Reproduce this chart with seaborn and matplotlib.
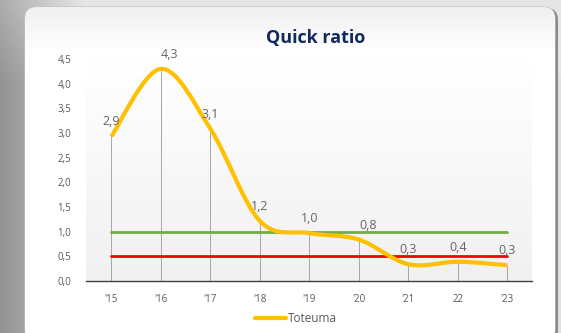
import numpy as np
import pandas as pd
import matplotlib
matplotlib.use("Agg")
import matplotlib.pyplot as plt
import seaborn as sns
from matplotlib.path import Path
from matplotlib.patches import PathPatch, FancyBboxPatch
from matplotlib.lines import Line2D
from matplotlib.colors import LinearSegmentedColormap

# ---- data ----
years = ["'15", "'16", "'17", "'18", "'19", "'20", "'21", "22", "'23"]
toteuma = [2.93, 4.30, 3.09, 1.22, 0.97, 0.84, 0.34, 0.39, 0.32]
target_good = [1.0, 1.0, 1.0, 1.0, 1.0, 1.0, 1.0, 1.0, 1.0]
target_min = [0.5, 0.5, 0.5, 0.5, 0.5, 0.5, 0.5, 0.5, 0.5]
y_ticks = [0.0, 0.5, 1.0, 1.5, 2.0, 2.5, 3.0, 3.5, 4.0, 4.5]

df = pd.DataFrame({"year": years, "pos": np.arange(len(years)),
                   "toteuma": toteuma, "good": target_good, "min": target_min})

sns.set_theme(style="white")
plt.rcParams["font.family"] = ["Open Sans", "DejaVu Sans"]

W, H = 561, 333
fig = plt.figure(figsize=(W / 100, H / 100), dpi=100)

# ---- framed card background ----
bg = fig.add_axes([0, 0, 1, 1], zorder=-5)
bg.set_xlim(0, W)
bg.set_ylim(H, 0)
bg.axis("off")
gx = np.linspace(0, 1, 120)[None, :]
gy = np.linspace(0, 1, 80)[:, None]
shade = 0.58 + 0.30 * np.clip(gx * 5, 0, 1) + 0.10 * (1 - np.clip(gy * 4, 0, 1))
shade = np.clip(shade, 0, 0.90)
bg.imshow(np.dstack([shade, shade, shade]), extent=(0, W, H, 0), aspect="auto",
          interpolation="bilinear", zorder=0)

shadow = FancyBboxPatch((27, 8), 531, 334, boxstyle="round,pad=0,rounding_size=12",
                        facecolor="#8a8a8a", edgecolor="none", zorder=1)
bg.add_patch(shadow)
card = FancyBboxPatch((25, 7), 530, 334, boxstyle="round,pad=0,rounding_size=12",
                      facecolor="white", edgecolor="#c4c4c4", linewidth=0.8, zorder=2)
bg.add_patch(card)
card_grad = np.linspace(0.94, 1.0, 40)[:, None] * np.ones((1, 2))
card_grad = np.vstack([card_grad, np.ones((260, 2))])
im = bg.imshow(np.dstack([card_grad] * 3), extent=(25, 555, 341, 7), aspect="auto",
               interpolation="bilinear", zorder=3)
im.set_clip_path(card)

# ---- plot area ----
ax = fig.add_axes([86.5 / W, (H - 281) / H, (532 - 86.5) / W, (281 - 59) / H])
ax.set_facecolor("none")
plot_cmap = LinearSegmentedColormap.from_list("pa", ["#f1f1f1", "#ffffff"])
ax.imshow(np.linspace(0, 1, 100)[:, None], cmap=plot_cmap, extent=(0, 1, 0, 1),
          origin="lower", aspect="auto", transform=ax.transAxes, zorder=0)

# drop lines from each observation to the axis
ax.vlines(df["pos"], 0, df["toteuma"], color="#a6a6a6", linewidth=0.7, zorder=1)

# reference levels
sns.lineplot(data=df, x="pos", y="good", color="#70AD47", linewidth=2.0, ax=ax, zorder=2)
sns.lineplot(data=df, x="pos", y="min", color="#FF0000", linewidth=2.0, ax=ax, zorder=3)


def smooth_path(xs, ys):
    pts = np.column_stack([xs, ys]).astype(float)
    n = len(pts)
    verts = [pts[0]]
    codes = [Path.MOVETO]
    for i in range(n - 1):
        p0 = pts[i - 1] if i > 0 else pts[i]
        p1 = pts[i]
        p2 = pts[i + 1]
        p3 = pts[i + 2] if i + 2 < n else pts[i + 1]
        verts += [p1 + (p2 - p0) / 6, p2 - (p3 - p1) / 6, p2]
        codes += [Path.CURVE4] * 3
    return Path(verts, codes)


curve = PathPatch(smooth_path(df["pos"], df["toteuma"]), facecolor="none",
                  edgecolor="#FFC000", linewidth=3.0, capstyle="butt", zorder=4)
ax.add_patch(curve)

# value labels
label_nudge = {1: 9, 5: 9}
for i, v in enumerate(df["toteuma"]):
    ax.annotate(f"{v:.1f}".replace(".", ","), (i, v),
                xytext=(label_nudge.get(i, 0), 11), textcoords="offset pixels",
                ha="center", va="baseline", fontsize=9, color="#666666",
                zorder=6, annotation_clip=False)

ax.set_xlim(-0.5, len(years) - 0.5)
ax.set_ylim(0, 4.5)
ax.set_xticks(df["pos"])
ax.set_xticklabels(years)
ax.set_yticks(y_ticks)
ax.set_yticklabels([f"{t:.1f}".replace(".", ",") for t in y_ticks])
ax.tick_params(axis="both", length=0, labelsize=7, labelcolor="#595959")
ax.tick_params(axis="y", pad=11)
ax.tick_params(axis="x", pad=9)
ax.set_xlabel("")
ax.set_ylabel("")
for side in ("left", "right", "top"):
    ax.spines[side].set_visible(False)
ax.spines["bottom"].set_color("#404040")
ax.spines["bottom"].set_linewidth(1.0)

fig.text(316 / W, 1 - 38 / H, "Quick ratio", ha="center", va="center",
         fontsize=13, fontweight="bold", color="#13295e")

fig.legend(handles=[Line2D([], [], color="#FFC000", linewidth=3)], labels=["Toteuma"],
           loc="center", bbox_to_anchor=(296 / W, 1 - 319 / H), frameon=False,
           handlelength=2.7, handletextpad=0.15, fontsize=8.5, labelcolor="#595959")

fig.savefig("out.png", dpi=100)
